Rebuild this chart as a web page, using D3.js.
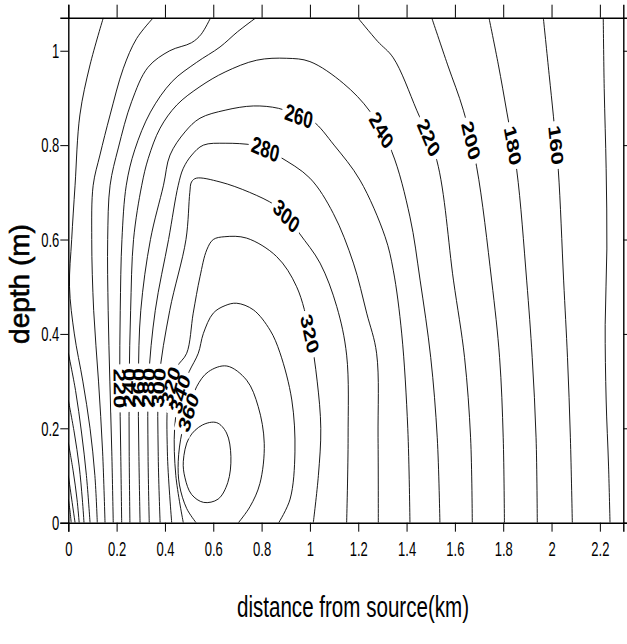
<!DOCTYPE html>
<html>
<head>
<meta charset="utf-8">
<script src="https://cdn.jsdelivr.net/npm/d3@7"></script>
<style>
body { margin: 0; background: #fff; }
svg { display: block; }
.axis path, .axis line { stroke: #000; }
.axis path { stroke-width: 1.4; }
.contour { fill: none; stroke: #000; stroke-width: 0.9; }
.clabel { font-family: 'Liberation Sans', Arial, sans-serif; font-weight: bold; }
</style>
</head>
<body>
<div id="chart"></div>
<script>
// axis ticks
var xTicks = [0, 0.2, 0.4, 0.6, 0.8, 1, 1.2, 1.4, 1.6, 1.8, 2, 2.2];
var yTicks = [0, 0.2, 0.4, 0.6, 0.8, 1];
var xMax = 2.297, yMax = 1.07;

// isolines, [distance km, depth m]
var c60  = [[0, 0.05], [0.007, 0.025], [0.012, 0]];
var c80  = [[0, 0.10], [0.014, 0.05], [0.028, 0]];
var c100 = [[0, 0.17], [0.02, 0.11], [0.036, 0.05], [0.045, 0]];
var c120 = [[0, 0.26], [0.025, 0.19], [0.045, 0.12], [0.058, 0.05], [0.065, 0]];
var c140a = [[0, 0.36], [0.03, 0.28], [0.055, 0.19], [0.075, 0.1], [0.09, 0]];
var c160a = [[0.145, 1.07], [0.09, 0.97], [0.048, 0.864], [0.028, 0.715], [0.014, 0.6], [0.005, 0.5], [0.025, 0.4], [0.06, 0.3], [0.09, 0.2], [0.11, 0.1], [0.12, 0]];
var c180a = [[0.352, 1.07], [0.283, 1.026], [0.228, 0.963], [0.173, 0.864], [0.131, 0.779], [0.103, 0.715], [0.097, 0.6], [0.105, 0.45], [0.125, 0.3], [0.142, 0.15], [0.152, 0]];
var c200a = [[0.589, 1.07], [0.55, 1.035], [0.51, 1.017], [0.42, 1.0], [0.33, 0.965], [0.262, 0.892], [0.207, 0.794], [0.173, 0.715], [0.163, 0.6], [0.165, 0.45], [0.172, 0.3], [0.18, 0.15], [0.186, 0]];
var c220a = [[0.777, 1.07], [0.7, 1.04], [0.628, 1.008], [0.53, 0.975], [0.43, 0.935], [0.34, 0.87], [0.275, 0.79], [0.24, 0.715], [0.222, 0.6], [0.215, 0.45], [0.213, 0.3], [0.217, 0.15], [0.221, 0]];
var c240 = [[0.255, 0], [0.252, 0.15], [0.252, 0.3], [0.258, 0.45], [0.27, 0.6], [0.304, 0.715], [0.331, 0.772], [0.38, 0.836], [0.449, 0.885], [0.545, 0.924], [0.649, 0.955], [0.78, 0.98], [0.904, 0.984], [1.0, 0.977], [1.138, 0.931], [1.249, 0.871], [1.339, 0.786], [1.414, 0.648], [1.456, 0.514], [1.5, 0.35], [1.527, 0.18], [1.538, 0]];
var c260 = [[0.297, 0], [0.292, 0.15], [0.29, 0.3], [0.3, 0.45], [0.34, 0.6], [0.394, 0.715], [0.421, 0.779], [0.483, 0.828], [0.545, 0.857], [0.649, 0.874], [0.766, 0.883], [0.87, 0.878], [0.955, 0.862], [1.014, 0.85], [1.1, 0.8], [1.207, 0.726], [1.311, 0.606], [1.345, 0.535], [1.38, 0.4], [1.405, 0.2], [1.414, 0]];
var c280 = [[0.335, 0], [0.33, 0.15], [0.332, 0.3], [0.36, 0.45], [0.415, 0.6], [0.455, 0.715], [0.476, 0.751], [0.511, 0.779], [0.559, 0.8], [0.649, 0.804], [0.766, 0.8], [0.817, 0.792], [0.876, 0.775], [1.0, 0.73], [1.097, 0.655], [1.18, 0.55], [1.235, 0.444], [1.276, 0.359], [1.282, 0.18], [1.283, 0]];
var c300 = [[0.38, 0], [0.372, 0.15], [0.375, 0.3], [0.42, 0.45], [0.487, 0.6], [0.503, 0.7], [0.51, 0.722], [0.53, 0.73], [0.628, 0.722], [0.75, 0.7], [0.855, 0.673], [0.904, 0.65], [0.958, 0.612], [1.042, 0.55], [1.111, 0.458], [1.152, 0.355], [1.158, 0.18], [1.152, 0]];
var c320 = [[0.428, 0], [0.41, 0.15], [0.415, 0.27], [0.45, 0.33], [0.49, 0.359], [0.517, 0.444], [0.545, 0.521], [0.573, 0.578], [0.6, 0.6], [0.648, 0.606], [0.738, 0.603], [0.862, 0.564], [0.945, 0.5], [1.0, 0.4], [1.03, 0.3], [1.045, 0.2], [1.035, 0.1], [1.014, 0]];
var c340 = [[0.476, 0], [0.445, 0.1], [0.44, 0.2], [0.463, 0.274], [0.5, 0.32], [0.538, 0.359], [0.559, 0.401], [0.6, 0.444], [0.649, 0.46], [0.697, 0.465], [0.766, 0.451], [0.835, 0.408], [0.876, 0.36], [0.925, 0.26], [0.938, 0.15], [0.918, 0.05], [0.871, 0]];
var c360 = [[0.529, 0], [0.49, 0.03], [0.46, 0.08], [0.455, 0.13], [0.47, 0.19], [0.497, 0.235], [0.531, 0.288], [0.58, 0.32], [0.656, 0.332], [0.738, 0.302], [0.786, 0.246], [0.811, 0.168], [0.793, 0.083], [0.752, 0.034], [0.704, 0]];
var c380 = [[0.476, 0.13], [0.5, 0.18], [0.555, 0.207], [0.614, 0.212], [0.655, 0.19], [0.673, 0.14], [0.66, 0.085], [0.62, 0.05], [0.56, 0.043], [0.51, 0.06], [0.483, 0.095]];
var c220b = [[1.198, 1.07], [1.28, 1.02], [1.345, 0.985], [1.442, 0.874], [1.525, 0.768], [1.594, 0.514], [1.64, 0.35], [1.665, 0.18], [1.672, 0]];
var c200b = [[1.504, 1.07], [1.57, 0.97], [1.635, 0.874], [1.69, 0.754], [1.752, 0.514], [1.785, 0.35], [1.8, 0.18], [1.805, 0]];
var c180b = [[1.741, 1.07], [1.78, 0.97], [1.815, 0.87], [1.856, 0.747], [1.897, 0.514], [1.92, 0.35], [1.936, 0.18], [1.941, 0]];
var c160b = [[1.966, 1.07], [1.99, 0.95], [2.008, 0.86], [2.028, 0.747], [2.05, 0.514], [2.066, 0.35], [2.078, 0.18], [2.086, 0]];
var c140b = [[2.214, 1.07], [2.218, 0.92], [2.226, 0.75], [2.229, 0.58], [2.222, 0.42], [2.226, 0.26], [2.236, 0.12], [2.242, 0]];

// contour labels: level and where it sits on its line
var labelLevels = [160, 180, 200, 220, 240, 260, 280, 300, 320, 220, 240, 260, 280, 300, 320, 340, 360];
var labelKm     = [2.02, 1.845, 1.665, 1.49, 1.29, 0.955, 0.817, 0.904, 1.0, 0.214, 0.252, 0.29, 0.332, 0.378, 0.42, 0.463, 0.497];
var labelDepth  = [0.80, 0.80, 0.81, 0.815, 0.83, 0.862, 0.79, 0.65, 0.40, 0.285, 0.285, 0.285, 0.285, 0.285, 0.29, 0.274, 0.235];

var contours = [
	{ level: 60, pts: c60 }, { level: 80, pts: c80 }, { level: 100, pts: c100 },
	{ level: 120, pts: c120 }, { level: 140, pts: c140a }, { level: 160, pts: c160a },
	{ level: 180, pts: c180a }, { level: 200, pts: c200a }, { level: 220, pts: c220a },
	{ level: 240, pts: c240 }, { level: 260, pts: c260 }, { level: 280, pts: c280 },
	{ level: 300, pts: c300 }, { level: 320, pts: c320 }, { level: 340, pts: c340 },
	{ level: 360, pts: c360 }, { level: 380, pts: c380, closed: true },
	{ level: 220, pts: c220b }, { level: 200, pts: c200b }, { level: 180, pts: c180b },
	{ level: 160, pts: c160b }, { level: 140, pts: c140b }
];

var margin = { top: 17.7, left: 68.3 };
var width = 555, height = 505;
var labelStretch = 1.4;

var x = d3.scaleLinear().domain([0, xMax]).range([0, width]);
var y = d3.scaleLinear().domain([0, yMax]).range([height, 0]);

var svg = d3.select('#chart').append('svg')
	.attr('width', 627)
	.attr('height', 644);

var g = svg.append('g')
	.attr('transform', 'translate(' + margin.left + ',' + margin.top + ')');

g.append('clipPath').attr('id', 'plot-clip')
	.append('rect').attr('width', width).attr('height', height);

// contour lines
var line = d3.line()
	.x(function(d) { return x(d[0]); })
	.y(function(d) { return y(d[1]); })
	.curve(d3.curveCatmullRom.alpha(0.5));
var loop = d3.line()
	.x(function(d) { return x(d[0]); })
	.y(function(d) { return y(d[1]); })
	.curve(d3.curveCatmullRomClosed.alpha(0.5));

var paths = g.append('g')
	.attr('clip-path', 'url(#plot-clip)')
	.selectAll('path')
	.data(contours)
	.enter().append('path')
	.attr('class', 'contour')
	.attr('d', function(d) { return d.closed ? loop(d.pts) : line(d.pts); });

// find where each label sits on its line and which way the line runs
function nearestOnPath(node, px, py) {
	var len = node.getTotalLength();
	var best = null;
	for (var l = 0; l <= len; l += 1) {
		var p = node.getPointAtLength(l);
		var dd = (p.x - px) * (p.x - px) + (p.y - py) * (p.y - py);
		if (!best || dd < best.d) best = { d: dd, l: l, p: p, node: node, len: len };
	}
	return best;
}

var labelData = labelLevels.map(function(lev, i) {
	var px = x(labelKm[i]), py = y(labelDepth[i]);
	var best = null;
	paths.each(function(c) {
		if (c.level !== lev) return;
		var b = nearestOnPath(this, px, py);
		if (!best || b.d < best.d) best = b;
	});
	var a = best.node.getPointAtLength(Math.max(0, best.l - 3));
	var b = best.node.getPointAtLength(Math.min(best.len, best.l + 3));
	var ang = Math.atan2((b.y - a.y) / labelStretch, b.x - a.x) * 180 / Math.PI;
	if (ang > 90) ang -= 180;
	if (ang < -90) ang += 180;
	return { level: lev, x: best.p.x, y: best.p.y, angle: ang };
});

function labelTransform(d) {
	return 'translate(' + d.x + ',' + d.y + ') scale(1,' + labelStretch + ') rotate(' + d.angle + ')';
}

var boxes = g.append('g');
var texts = g.append('g');

texts.selectAll('text')
	.data(labelData)
	.enter().append('text')
	.attr('class', 'clabel')
	.attr('transform', labelTransform)
	.attr('text-anchor', 'middle')
	.attr('dy', '0.36em')
	.style('font-size', '17px')
	.text(function(d) { return d.level; })
	.each(function(d) {
		var bb = this.getBBox();
		boxes.append('rect')
			.attr('transform', labelTransform(d))
			.attr('x', bb.x - 3)
			.attr('y', bb.y + 1)
			.attr('width', bb.width + 6)
			.attr('height', bb.height - 2)
			.style('fill', '#fff');
	});

// axes
var xAxis = g.append('g')
	.attr('class', 'axis')
	.attr('transform', 'translate(0,' + height + ')')
	.call(d3.axisBottom(x).tickValues(xTicks).tickSize(9).tickFormat(d3.format('~g')));
xAxis.selectAll('text')
	.attr('y', 18)
	.attr('transform', 'scale(0.62,1)')
	.style('font-family', "'Liberation Sans', Arial, sans-serif")
	.style('font-size', '21px');

var yAxis = g.append('g')
	.attr('class', 'axis')
	.call(d3.axisLeft(y).tickValues(yTicks).tickSize(8).tickFormat(d3.format('~g')));
yAxis.selectAll('text')
	.attr('x', 0)
	.attr('transform', 'translate(-9,0) scale(0.62,1)')
	.style('font-family', "'Liberation Sans', Arial, sans-serif")
	.style('font-size', '21px');

g.append('g')
	.attr('class', 'axis')
	.call(d3.axisTop(x).tickValues(xTicks).tickSize(13).tickFormat(''));

g.append('g')
	.attr('class', 'axis')
	.attr('transform', 'translate(' + width + ',0)')
	.call(d3.axisRight(y).tickValues(yTicks).tickSize(8).tickFormat(''));

g.selectAll('.axis .domain').attr('stroke-width', 1.4);

// titles
svg.append('text')
	.attr('transform', 'translate(353,617) scale(0.71,1)')
	.attr('text-anchor', 'middle')
	.style('font-family', "'Liberation Sans', Arial, sans-serif")
	.style('font-size', '29px')
	.text('distance from source(km)');

svg.append('text')
	.attr('transform', 'translate(29,284) rotate(-90)')
	.attr('text-anchor', 'middle')
	.style('font-family', "'Liberation Sans', Arial, sans-serif")
	.style('font-size', '28px')
	.style('stroke', '#000')
	.style('stroke-width', 0.6)
	.text('depth (m)');
</script>
</body>
</html>
